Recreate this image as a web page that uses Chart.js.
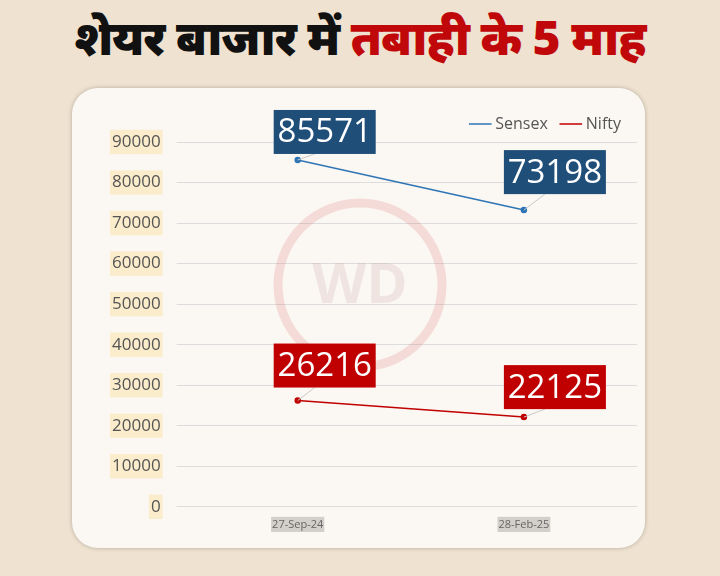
<!DOCTYPE html>
<html><head><meta charset="utf-8">
<script src="https://cdn.jsdelivr.net/npm/chart.js@4"></script>
<style>
html,body{margin:0;padding:0;width:720px;height:576px;background:#efe2d0;overflow:hidden}
#title{position:absolute;left:0;top:4px;width:720px;text-align:center;font-family:"Noto Sans","Lato",sans-serif;font-weight:900;font-size:48px;letter-spacing:-1px;color:#111;white-space:nowrap}
#title span{color:#c0080a}
#card{position:absolute;left:72px;top:88px;width:573px;height:460px;background:#fbf8f3;border-radius:26px;box-shadow:0 0 4px rgba(0,0,0,0.25)}
#wrap{position:absolute;left:72px;top:88px;width:573px;height:460px}
</style></head><body>
<div id="title">शेयर बाजार में <span>तबाही के 5 माह</span></div>
<div id="card"></div>
<div id="wrap"><canvas id="c"></canvas></div>
<script>
const categories=["27-Sep-24","28-Feb-25"];
const sensex=[85571,73198];
const nifty=[26216,22125];
const yTicks=[0,10000,20000,30000,40000,50000,60000,70000,80000,90000];

const bgPlugin={id:'wm',beforeDatasetsDraw(ch){
  const c=ch.ctx,x=288,y=197;
  c.save();c.strokeStyle='rgba(220,120,120,0.22)';c.lineWidth=9;
  c.beginPath();c.arc(x,y,82,0,Math.PI*2);c.stroke();
  c.fillStyle='rgba(200,150,150,0.2)';c.font='bold 56px "Open Sans"';c.textAlign='center';c.textBaseline='middle';
  c.fillText('WD',x,y+2);c.restore();
}};
const labelPlugin={id:'lbl',afterDatasetsDraw(ch){
  const c=ch.ctx;
  const offs=[[[27,-28],[31,-38]],[[27,-35],[31,-30]]];
  const cols=['#1f4e79','#c00000'];
  ch.data.datasets.forEach((ds,di)=>{
    ch.getDatasetMeta(di).data.forEach((p,i)=>{
      const [ox,oy]=offs[di][i];const cx=p.x+ox,cy=p.y+oy;
      c.save();c.strokeStyle='#c8c8c8';c.lineWidth=1;c.beginPath();c.moveTo(p.x,p.y);c.lineTo(cx-10,cy+22);c.stroke();
      c.fillStyle=cols[di];c.fillRect(cx-51,cy-22,102,44);
      c.fillStyle='#fff';c.font='33px "Open Sans"';c.textAlign='center';c.textBaseline='middle';
      c.fillText(String(ds.data[i]),cx,cy+1);c.restore();
    });
  });
}};
new Chart(document.getElementById('c'),{type:'line',
 data:{labels:categories,datasets:[
  {label:'Sensex',data:sensex,borderColor:'#2e75b6',backgroundColor:'#2e75b6',borderWidth:1.5,pointRadius:2.5},
  {label:'Nifty',data:nifty,borderColor:'#c00000',backgroundColor:'#c00000',borderWidth:1.5,pointRadius:2.5}]},
 options:{responsive:true,maintainAspectRatio:false,animation:false,
  layout:{padding:{left:24,right:8,top:12,bottom:14}},
  plugins:{legend:{position:'top',align:'end',labels:{usePointStyle:true,pointStyle:'line',boxWidth:14,padding:16,color:'#555',font:{size:16,family:'"Open Sans"'}}},tooltip:{enabled:false}},
  scales:{
   x:{offset:true,grid:{display:false},border:{display:false},
      ticks:{color:'#666',font:{size:11,family:'"Open Sans"'},backdropColor:'#d3cfca',showLabelBackdrop:true,backdropPadding:1}},
   y:{min:0,max:90000,afterBuildTicks(s){s.ticks=yTicks.map(v=>({value:v}));},
      grid:{color:'#dcdcdc'},border:{display:false},
      ticks:{callback:v=>String(v),color:'#555',padding:16,font:{size:17,family:'"Open Sans"'},showLabelBackdrop:true,backdropColor:'#fbeccb',backdropPadding:2}}}},
 plugins:[bgPlugin,labelPlugin]});
</script></body></html>
